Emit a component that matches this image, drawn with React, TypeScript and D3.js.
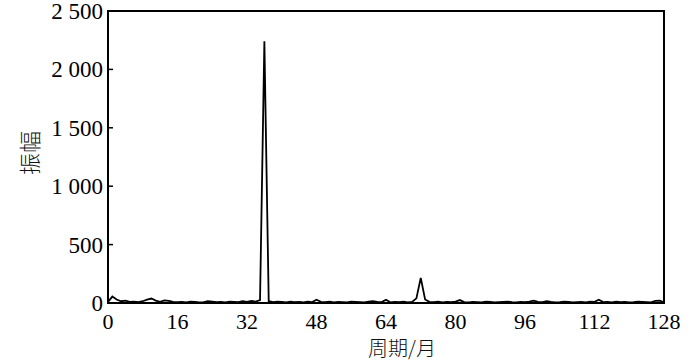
import React, { useEffect, useRef } from "react";
import * as d3 from "d3";

// amplitude per period (months 0..128)
const periods = d3.range(0, 129);
const amplitudes = [
  10, 55, 30, 15, 20, 10, 12, 8, 15, 28, 38, 20, 10, 22, 18, 10,
  8, 10, 6, 12, 10, 5, 8, 15, 12, 8, 10, 6, 12, 10, 8, 15,
  10, 18, 12, 25, 2240, 15, 8, 12, 10, 6, 12, 8, 10, 5, 12, 8,
  28, 10, 8, 12, 6, 10, 8, 5, 12, 10, 8, 6, 12, 15, 10, 8,
  28, 6, 10, 8, 12, 5, 10, 40, 215, 30, 10, 8, 12, 6, 10, 8,
  12, 25, 8, 6, 10, 8, 5, 12, 10, 6, 8, 10, 12, 8, 6, 10,
  8, 12, 20, 10, 8, 15, 10, 6, 8, 12, 10, 5, 8, 10, 6, 12,
  10, 28, 8, 10, 6, 12, 8, 10, 5, 8, 12, 10, 8, 6, 18, 20, 5,
];
const xTicks = [0, 16, 32, 48, 64, 80, 96, 112, 128];
const yTicks = [0, 500, 1000, 1500, 2000, 2500];
const yTickLabels = ["0", "500", "1 000", "1 500", "2 000", "2 500"];

const App = () => {
  const ref = useRef<SVGSVGElement>(null);

  useEffect(() => {
    const svg = d3.select(ref.current);
    svg.selectAll("*").remove();

    const left = 108, right = 664, top = 11, bottom = 303;
    const x = d3.scaleLinear().domain([0, 128]).range([left, right]);
    const y = d3.scaleLinear().domain([0, 2500]).range([bottom, top]);
    const font = "Liberation Serif";

    const line = d3.line<number>()
      .x((d, i) => x(periods[i]))
      .y(d => y(d));

    svg.append("path")
      .datum(amplitudes)
      .attr("fill", "none")
      .attr("stroke", "#000")
      .attr("stroke-width", 1.8)
      .attr("stroke-linejoin", "miter")
      .attr("d", line);

    // frame
    svg.append("rect")
      .attr("x", left).attr("y", top)
      .attr("width", right - left).attr("height", bottom - top)
      .attr("fill", "none").attr("stroke", "#000").attr("stroke-width", 2);

    // y ticks (inward) + labels
    yTicks.forEach((t, i) => {
      svg.append("line")
        .attr("x1", left).attr("x2", left + 5)
        .attr("y1", y(t)).attr("y2", y(t))
        .attr("stroke", "#000").attr("stroke-width", 1.5);
      svg.append("text")
        .attr("x", left - 5).attr("y", y(t))
        .attr("dy", "0.35em")
        .attr("text-anchor", "end")
        .attr("font-family", font).attr("font-size", 23)
        .text(yTickLabels[i]);
    });

    xTicks.forEach(t => {
      svg.append("text")
        .attr("x", x(t)).attr("y", 329)
        .attr("text-anchor", "middle")
        .attr("font-family", font).attr("font-size", 22)
        .text(t);
    });

    svg.append("text")
      .attr("x", 402).attr("y", 356)
      .attr("text-anchor", "middle")
      .attr("font-family", "Noto Sans CJK SC").attr("font-size", 20)
      .attr("font-weight", 300)
      .attr("fill", "#111")
      .text("周期/月");

    svg.append("text")
      .attr("transform", `translate(38, 153) rotate(-90)`)
      .attr("text-anchor", "middle")
      .attr("font-family", "Noto Sans CJK SC").attr("font-size", 22)
      .attr("font-weight", 300)
      .attr("fill", "#111")
      .text("振幅");
  }, []);

  return (
    <svg ref={ref} width={700} height={363}
      style={{ position: "absolute", left: 0, top: 0, background: "#fff" }} />
  );
};

export default App;
